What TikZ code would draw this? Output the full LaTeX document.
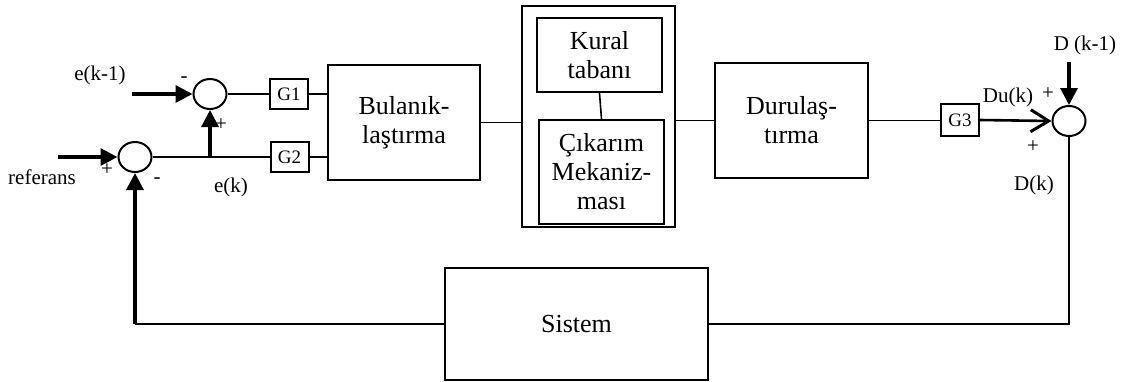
\documentclass[tikz,border=0pt]{standalone}
\usepackage{fontspec}
\setmainfont{Liberation Serif}
\usetikzlibrary{arrows.meta,shapes.geometric}
\begin{document}
\begin{tikzpicture}[x=0.5pt,y=-0.5pt,
    box/.style={draw,line width=1pt,inner sep=0pt,align=center,
      font=\fontsize{13}{14.5}\selectfont},
    gain/.style={draw,line width=1pt,inner sep=0pt,minimum width=19pt,
      minimum height=15pt,font=\fontsize{9.5}{10}\selectfont},
    sum/.style={draw,ellipse,line width=1pt,inner sep=0pt,
      minimum width=16.5pt,minimum height=15pt},
    lbl/.style={inner sep=0pt,font=\fontsize{10.5}{12}\selectfont},
    wire/.style={line width=0.8pt},
    sig/.style={line width=1.6pt,-{Triangle[length=8.5pt,width=8.5pt]}},
    barb/.style={line width=1.3pt,-{Straight Barb[length=9pt,width=11pt,line width=1.5pt]}}]
  \useasboundingbox (0,0) rectangle (1122,381);
  \node[sum] (s1) at (210,94) {};
  \node[sum] (s2) at (135,157) {};
  \node[sum] (s3) at (1069,121) {};
  \node[gain] (g1) at (289,94) {G1};
  \node[gain] (g2) at (289.5,157) {G2};
  \node[gain,minimum height=16pt] (g3) at (960,120) {G3};
  \node[box,minimum width=76pt,minimum height=57.5pt] (bul) at (404,122.5) {Bulanık-\\laştırma};
  \node[box,minimum width=76.5pt,minimum height=110.5pt] (mot) at (598.5,116.5) {};
  \node[box,minimum width=62.5pt,minimum height=37pt] (kural) at (599.5,55) {Kural\\tabanı};
  \node[box,minimum width=62.5pt,minimum height=52pt] (cik) at (601.5,172) {Çıkarım\\Mekaniz-\\ması};
  \node[box,minimum width=76.5pt,minimum height=57.5pt] (dur) at (791.5,120.5) {Durulaş-\\tırma};
  \node[box,minimum width=131.5pt,minimum height=56pt] (sis) at (576.5,324) {Sistem};
  \coordinate (ein) at (132,94);
  \coordinate (rin) at (58,157);
  \coordinate (dkin) at (1069,62);
  \coordinate (fb) at (s2.south |- sis.west);
  \coordinate (br) at (s1.south |- s2.east);
  \node[lbl] (le1) at (100,75) {e(k-1)};
  \node[lbl] (m1) at (184,80) {-};
  \node[lbl] (p1) at (221,125) {+};
  \node[lbl] (lref) at (42,177) {referans};
  \node[lbl] (p2) at (107,170) {+};
  \node[lbl] (m2) at (157,181) {-};
  \node[lbl] (lek) at (231,187) {e(k)};
  \node[lbl] (ldu) at (1008,97) {Du(k)};
  \node[lbl] (p3) at (1048,94) {+};
  \node[lbl] (p4) at (1033,147) {+};
  \node[lbl] (ldk) at (1034,185) {D(k)};
  \node[lbl] (ldk1) at (1085,45) {D (k-1)};
  \draw[sig] (ein) -- (s1.west);
  \draw[sig] (rin) -- (s2.west);
  \draw[wire] (s1.east) -- (g1.west);
  \draw[wire] (g1.east) -- (g1.east -| bul.west);
  \draw[wire] (s2.east) -- (g2.west);
  \draw[wire] (g2.east) -- (g2.east -| bul.west);
  \draw[sig] (br) -- (s1.south);
  \draw[wire] (bul.east) -- (bul.east -| mot.west);
  \draw[wire] (kural.south) -- (cik.north);
  \draw[wire] (mot.east |- dur.west) -- (dur.west);
  \draw[wire] (dur.east) -- (dur.east -| g3.west);
  \draw[barb] (g3.east) -- (s3.west);
  \draw[sig] (dkin) -- (s3.north);
  \draw[wire] (s3.south) |- (sis.east);
  \draw[wire] (sis.west) -- (fb);
  \draw[sig] (fb) -- (s2.south);
\end{tikzpicture}
\end{document}
